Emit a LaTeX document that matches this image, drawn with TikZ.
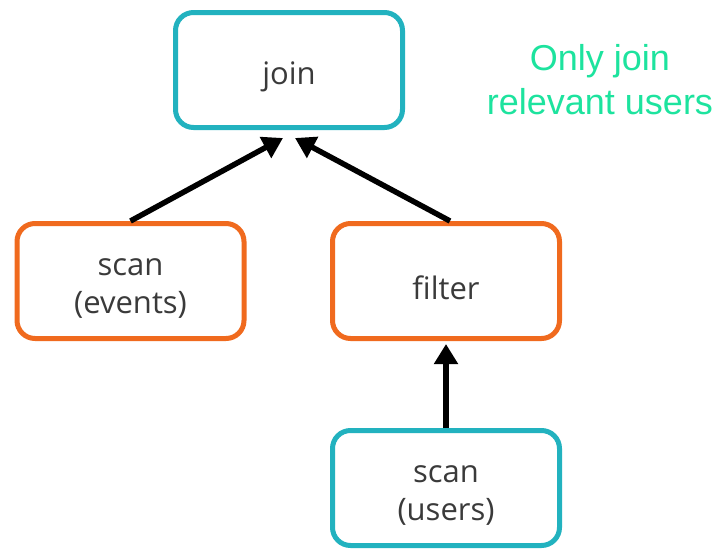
\documentclass[tikz,border=0pt]{standalone}
\usepackage{fontspec}
\setmainfont{Open Sans}
\newfontfamily\notefont{Liberation Sans}
\usetikzlibrary{arrows.meta,calc}
\definecolor{tealbox}{HTML}{22B2BF}
\definecolor{orangebox}{HTML}{F06A1E}
\definecolor{notegreen}{HTML}{1DE39E}
\definecolor{txtgray}{HTML}{3A3A3A}
\newcommand\lowtxt[1]{\raisebox{-7pt}[\height][\depth]{#1}}
\tikzset{
  opbox/.style={draw, rounded corners=18pt, line width=5pt, minimum width=227pt, minimum height=115pt,
    align=center, text=txtgray, font=\fontsize{31}{38}\selectfont, fill=white},
  tealop/.style={opbox, draw=tealbox},
  orangeop/.style={opbox, draw=orangebox},
  arr/.style={line width=5.5pt, -{Triangle[length=20pt,width=23pt]}},
  note/.style={text=notegreen, align=center, font=\notefont\fontsize{36}{44}\selectfont}
}
\begin{document}
\begin{tikzpicture}[x=1pt,y=-1pt]
\useasboundingbox (0,0) rectangle (718,550);
\node[tealop] (j) at (289,70) {\lowtxt{join}};
\node[orangeop] (ev) at (130.5,281) {\lowtxt{scan}\\\lowtxt{(events)}};
\node[orangeop] (fi) at (446,281) {\lowtxt{filter}};
\node[tealop] (us) at (446,488) {\lowtxt{scan}\\\lowtxt{(users)}};
\node[note] (nt) at (600,80) {Only join\\relevant users};
\draw[arr] (ev.north) -- ([xshift=-6pt,yshift=-8pt]j.south);
\draw[arr] ([xshift=4pt]fi.north) -- ([xshift=6pt,yshift=-8pt]j.south);
\draw[arr] (us.north) -- ([yshift=-3pt]fi.south);
\end{tikzpicture}
\end{document}
